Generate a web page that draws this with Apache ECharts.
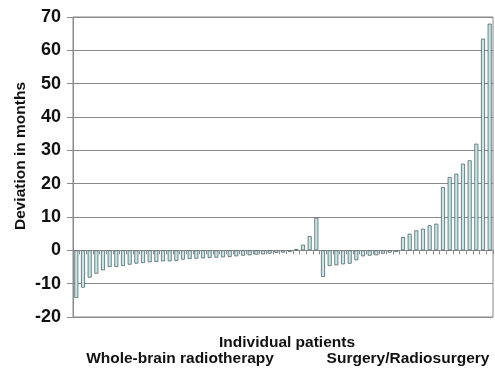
<!DOCTYPE html>
<html>
<head>
<meta charset="utf-8">
<script src="https://cdn.jsdelivr.net/npm/echarts@6/dist/echarts.min.js"></script>
<style>
html,body{margin:0;padding:0;background:#fff;}
#chart{width:495px;height:371px;}
</style>
</head>
<body>
<div id="chart"></div>
<script>
// Deviation (months) for each individual patient, in plotted order
const wholeBrain = [-14.3, -11.2, -8.2, -7.0, -6.0, -5.0, -5.0, -4.7, -4.3, -4.0,
  -3.8, -3.6, -3.5, -3.3, -3.3, -3.2, -2.8, -2.6, -2.5, -2.4,
  -2.3, -2.2, -2.1, -2.0, -1.8, -1.6, -1.5, -1.3, -1.2, -1.0,
  -0.8, -0.7, -0.5, 0.4, 1.7, 4.3, 9.8];
const surgery = [-8.0, -4.7, -4.5, -4.2, -4.0, -3.0, -1.8, -1.6, -1.5, -1.0,
  -0.7, -0.5, 4.0, 5.0, 6.0, 6.5, 7.5, 8.0, 19, 22, 23, 26, 27, 32, 63.5, 68];
const yTicks = [-20, -10, 0, 10, 20, 30, 40, 50, 60, 70];
const yTitle = 'Deviation in months';
const xTitle = 'Individual patients';
const groupLabels = ['Whole-brain radiotherapy', 'Surgery/Radiosurgery'];

const values = wholeBrain.concat(surgery);
const categories = values.map((v, i) => 'P' + (i + 1));

const chart = echarts.init(document.getElementById('chart'), null, {renderer: 'canvas'});
const font = 'Liberation Sans, Arial, sans-serif';
chart.setOption({
  animation: false,
  grid: {left: 73, right: 2, top: 17, bottom: 54, show: true, borderColor: '#8a8a8a', borderWidth: 1, containLabel: false},
  xAxis: {
    type: 'category',
    data: categories,
    axisLine: {onZero: true, lineStyle: {color: '#8a8a8a', width: 1}},
    axisTick: {show: true, interval: 0, length: 4, lineStyle: {color: '#8a8a8a'}},
    axisLabel: {show: false},
    splitLine: {show: false}
  },
  yAxis: {
    type: 'value',
    min: yTicks[0], max: yTicks[yTicks.length - 1], interval: 10,
    axisLine: {show: true, lineStyle: {color: '#8a8a8a', width: 1}},
    axisTick: {show: true, length: 6, lineStyle: {color: '#8a8a8a'}},
    axisLabel: {color: '#111', fontWeight: 'bold', fontSize: 18, fontFamily: font, margin: 12},
    splitLine: {show: true, lineStyle: {color: '#8a8a8a', width: 1}}
  },
  series: [{
    type: 'bar',
    data: values,
    barWidth: 4,
    itemStyle: {color: '#c4e8e8', borderColor: '#56646a', borderWidth: 0.8}
  }],
  graphic: [
    {type: 'text', x: 21, y: 156, rotation: Math.PI / 2, style: {text: yTitle, fill: '#111', font: 'bold 15.5px ' + font, textAlign: 'center', textVerticalAlign: 'middle'}},
    {type: 'text', x: 287, y: 343, style: {text: xTitle, fill: '#111', font: 'bold 15.5px ' + font, textAlign: 'center', textVerticalAlign: 'middle'}},
    {type: 'text', x: 180, y: 359, style: {text: groupLabels[0], fill: '#111', font: 'bold 15.5px ' + font, textAlign: 'center', textVerticalAlign: 'middle'}},
    {type: 'text', x: 408, y: 359, style: {text: groupLabels[1], fill: '#111', font: 'bold 15.5px ' + font, textAlign: 'center', textVerticalAlign: 'middle'}}
  ]
});
</script>
</body>
</html>
